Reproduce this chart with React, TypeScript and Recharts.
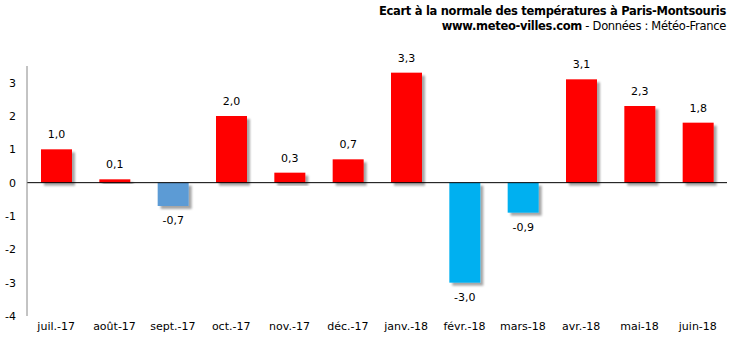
import { BarChart, Bar, XAxis, YAxis, Cell, LabelList, ReferenceLine } from 'recharts';

const months = ['juil.-17', 'août-17', 'sept.-17', 'oct.-17', 'nov.-17', 'déc.-17', 'janv.-18', 'févr.-18', 'mars-18', 'avr.-18', 'mai-18', 'juin-18'];
const ecart = [1.0, 0.1, -0.7, 2.0, 0.3, 0.7, 3.3, -3.0, -0.9, 3.1, 2.3, 1.8];
const barColors = ['#ff0000', '#ff0000', '#5b9bd5', '#ff0000', '#ff0000', '#ff0000', '#ff0000', '#00b0f0', '#00b0f0', '#ff0000', '#ff0000', '#ff0000'];
const yTicks = [-4, -3, -2, -1, 0, 1, 2, 3];

const data = months.map((m, i) => ({ month: m, value: ecart[i] }));

const font = '"DejaVu Sans", Verdana, sans-serif';

function fmt(v: number) {
  return v.toFixed(1).replace('.', ',');
}

function ShadowBar(props: any) {
  const { x, y, width, height, fill } = props;
  if (!width || height === undefined) return null;
  const h = Math.abs(height);
  const top = height < 0 ? y + height : y;
  return <rect x={x} y={top} width={width} height={h} fill={fill} filter="url(#barShadow)" />;
}

function ValueLabel(props: any) {
  const { x, y, width, height, value } = props;
  const cx = x + width / 2;
  const neg = value < 0;
  const bottom = Math.max(y, y + height);
  const top = Math.min(y, y + height);
  return (
    <text
      x={cx}
      y={neg ? bottom + 15 : top - 14}
      textAnchor="middle"
      dominantBaseline="middle"
      fontSize={11}
      fontFamily={font}
      fill="#000"
    >
      {fmt(value)}
    </text>
  );
}

export default function App() {
  return (
    <div style={{ position: 'absolute', left: 0, top: 0, width: 731, height: 338, background: '#fff' }}>
      <svg width={0} height={0} style={{ position: 'absolute' }}>
        <defs>
          <filter id="barShadow" x="-20%" y="-20%" width="150%" height="150%">
            <feDropShadow dx={3} dy={3} stdDeviation={1.2} floodColor="#000" floodOpacity={0.35} />
          </filter>
        </defs>
      </svg>
      <div
        style={{
          position: 'absolute',
          right: 5,
          top: 4,
          textAlign: 'right',
          fontFamily: font,
          fontSize: 11.5,
          lineHeight: '15px',
          color: '#000',
        }}
      >
        <div style={{ fontWeight: 'bold', letterSpacing: -0.3 }}>Ecart à la normale des températures à Paris-Montsouris</div>
        <div style={{ letterSpacing: -0.3 }}>
          <span style={{ fontWeight: 'bold' }}>www.meteo-villes.com</span> - Données : Météo-France
        </div>
      </div>
      <BarChart
        width={731}
        height={338}
        data={data}
        margin={{ top: 66, right: 4, bottom: 0, left: 0 }}
      >
        <XAxis
          dataKey="month"
          axisLine={false}
          tickLine={false}
          height={22}
          interval={0}
          tick={{ fontSize: 11, fill: '#000', fontFamily: font }}
          tickMargin={0}
        />
        <YAxis
          domain={[-4, 3.5]}
          ticks={yTicks}
          width={27}
          axisLine={{ stroke: '#888888' }}
          tickLine={false}
          tickMargin={5}
          tick={{ fontSize: 11, fill: '#000', fontFamily: font }}
          allowDataOverflow
        />
        <ReferenceLine y={0} stroke="#000" strokeWidth={1} />
        <Bar dataKey="value" barSize={31} isAnimationActive={false} shape={<ShadowBar />}>
          {data.map((d, i) => (
            <Cell key={d.month} fill={barColors[i]} />
          ))}
          <LabelList dataKey="value" content={<ValueLabel />} />
        </Bar>
      </BarChart>
    </div>
  );
}
